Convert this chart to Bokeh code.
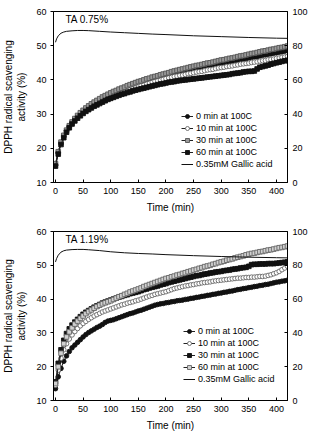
from bokeh.plotting import figure
from bokeh.layouts import column
from bokeh.models import (Range1d, LinearAxis, Legend, LegendItem, Label,
                          FixedTicker, ColumnDataSource)
from bokeh.embed import file_html
from bokeh.resources import INLINE

FONT = "Liberation Sans"

# Sampling times (min) for the DPPH kinetics
TIME = [0, 5, 10, 15, 20, 25, 30, 35, 40, 45,
        50, 55, 60, 65, 70, 75, 80, 85, 90, 95,
        100, 105, 110, 115, 120, 125, 130, 135, 140, 145,
        150, 155, 160, 165, 170, 175, 180, 185, 190, 195,
        200, 205, 210, 215, 220, 225, 230, 235, 240, 245,
        250, 255, 260, 265, 270, 275, 280, 285, 290, 295,
        300, 305, 310, 315, 320, 325, 330, 335, 340, 345,
        350, 355, 360, 365, 370, 375, 380, 385, 390, 395,
        400, 405, 410, 415, 420]

# TA 0.75 %
TOP_0 = [15.0, 18.7, 21.5, 23.5, 25.1, 26.4, 27.5, 28.5, 29.3, 30.1,
         30.8, 31.5, 32.1, 32.6, 33.1, 33.6, 34.1, 34.5, 34.9, 35.3,
         35.7, 36.1, 36.4, 36.7, 37.0, 37.3, 37.7, 38.0, 38.3, 38.5,
         38.8, 39.0, 39.3, 39.6, 39.8, 40.1, 40.3, 40.5, 40.7, 40.9,
         41.1, 41.3, 41.6, 41.8, 42.0, 42.2, 42.3, 42.5, 42.7, 42.9,
         43.1, 43.3, 43.4, 43.6, 43.8, 43.9, 44.0, 44.2, 44.4, 44.6,
         44.8, 44.9, 45.1, 45.3, 45.4, 45.5, 45.7, 45.9, 46.0, 46.2,
         46.4, 46.6, 46.7, 46.8, 47.0, 47.2, 47.3, 47.5, 47.6, 47.8,
         47.9, 48.1, 48.2, 48.4, 48.6]
TOP_10 = [15.3, 18.9, 21.7, 23.7, 25.2, 26.5, 27.5, 28.5, 29.3, 30.1,
          30.8, 31.4, 32.0, 32.5, 32.9, 33.3, 33.7, 34.2, 34.5, 34.9,
          35.2, 35.6, 35.8, 36.2, 36.4, 36.7, 37.0, 37.3, 37.6, 37.9,
          38.2, 38.4, 38.6, 38.9, 39.1, 39.4, 39.6, 39.8, 40.0, 40.2,
          40.4, 40.6, 40.8, 41.0, 41.1, 41.3, 41.4, 41.6, 41.8, 41.9,
          42.1, 42.3, 42.4, 42.5, 42.7, 42.9, 43.0, 43.1, 43.3, 43.5,
          43.6, 43.7, 43.9, 44.0, 44.1, 44.3, 44.4, 44.6, 44.7, 44.8,
          44.9, 45.1, 45.2, 45.3, 45.5, 45.6, 45.7, 45.9, 46.0, 46.1,
          46.3, 46.4, 46.6, 46.7, 46.9]
TOP_30 = [15.5, 19.0, 21.8, 23.8, 25.3, 26.6, 27.7, 28.7, 29.6, 30.4,
          31.1, 31.8, 32.4, 33.0, 33.5, 34.0, 34.5, 35.0, 35.4, 35.8,
          36.2, 36.6, 36.9, 37.3, 37.6, 37.9, 38.3, 38.6, 38.9, 39.2,
          39.5, 39.7, 40.0, 40.3, 40.5, 40.8, 41.0, 41.2, 41.5, 41.7,
          41.9, 42.1, 42.4, 42.6, 42.8, 43.0, 43.2, 43.4, 43.6, 43.8,
          44.0, 44.2, 44.3, 44.5, 44.7, 44.9, 45.0, 45.2, 45.4, 45.6,
          45.8, 45.9, 46.1, 46.3, 46.4, 46.6, 46.8, 47.0, 47.1, 47.3,
          47.5, 47.7, 47.8, 48.0, 48.2, 48.4, 48.5, 48.7, 48.9, 49.0,
          49.2, 49.4, 49.5, 49.7, 49.9]
TOP_60 = [14.8, 18.3, 21.1, 23.1, 24.7, 26.0, 27.1, 28.0, 28.8, 29.5,
          30.2, 30.8, 31.3, 31.8, 32.3, 32.7, 33.1, 33.5, 33.9, 34.3,
          34.6, 34.9, 35.2, 35.5, 35.8, 36.0, 36.3, 36.5, 36.8, 37.0,
          37.2, 37.4, 37.6, 37.8, 38.0, 38.2, 38.4, 38.6, 38.8, 38.9,
          39.1, 39.3, 39.4, 39.5, 39.7, 39.8, 39.9, 40.0, 40.1, 40.2,
          40.3, 40.4, 40.5, 40.6, 40.7, 40.8, 40.9, 41.0, 41.1, 41.2,
          41.3, 41.4, 41.5, 41.6, 41.8, 41.9, 42.0, 42.1, 42.3, 42.4,
          42.5, 42.5, 42.6, 43.2, 43.7, 43.9, 44.1, 44.3, 44.6, 44.8,
          45.0, 45.2, 45.4, 45.6, 45.7]

# TA 1.19 %
BOT_0 = [13.5, 17.0, 19.5, 21.6, 23.2, 24.5, 25.6, 26.4, 27.2, 28.0,
         28.8, 29.5, 30.1, 30.6, 31.1, 31.6, 32.0, 32.5, 33.1, 33.5,
         33.7, 33.9, 34.2, 34.5, 34.8, 35.1, 35.4, 35.7, 35.9, 36.2,
         36.5, 36.7, 37.0, 37.3, 37.6, 37.9, 38.2, 38.4, 38.6, 38.7,
         38.9, 39.0, 39.2, 39.3, 39.5, 39.6, 39.7, 39.9, 40.0, 40.2,
         40.3, 40.5, 40.6, 40.8, 40.9, 41.1, 41.2, 41.4, 41.5, 41.7,
         41.8, 42.0, 42.1, 42.3, 42.4, 42.6, 42.8, 42.9, 43.1, 43.2,
         43.4, 43.5, 43.7, 43.8, 44.0, 44.1, 44.3, 44.4, 44.6, 44.8,
         45.0, 45.1, 45.3, 45.4, 45.6]
BOT_10 = [14.5, 19.0, 22.5, 25.0, 26.8, 28.2, 29.4, 30.4, 31.3, 32.1,
          32.8, 33.4, 34.0, 34.5, 35.0, 35.4, 35.8, 36.2, 36.5, 36.8,
          37.1, 37.4, 37.7, 38.0, 38.3, 38.5, 38.8, 39.0, 39.2, 39.5,
          39.7, 40.0, 40.3, 40.6, 40.9, 41.1, 41.4, 41.6, 41.8, 42.0,
          42.2, 42.5, 42.8, 43.1, 43.3, 43.5, 43.7, 43.9, 44.0, 44.2,
          44.3, 44.5, 44.6, 44.8, 44.9, 45.0, 45.1, 45.3, 45.4, 45.5,
          45.6, 45.7, 45.8, 45.9, 46.0, 46.1, 46.2, 46.2, 46.3, 46.4,
          46.4, 46.5, 46.5, 46.6, 46.7, 46.7, 46.8, 47.0, 47.2, 47.5,
          47.8, 48.2, 48.7, 49.2, 49.7]
BOT_30 = [15.5, 21.0, 25.0, 27.8, 29.8, 31.2, 32.3, 33.2, 34.0, 34.8,
          35.5, 36.1, 36.6, 37.1, 37.6, 38.0, 38.4, 38.8, 39.1, 39.4,
          39.7, 40.0, 40.3, 40.6, 40.8, 41.1, 41.3, 41.6, 41.8, 42.0,
          42.2, 42.5, 42.8, 43.0, 43.3, 43.5, 43.7, 43.9, 44.2, 44.4,
          44.6, 44.9, 45.1, 45.3, 45.5, 45.7, 45.9, 46.1, 46.3, 46.5,
          46.7, 46.9, 47.0, 47.2, 47.4, 47.5, 47.7, 47.8, 48.0, 48.1,
          48.2, 48.4, 48.5, 48.6, 48.8, 48.9, 49.0, 49.2, 49.3, 49.4,
          49.7, 50.2, 50.3, 50.3, 50.4, 50.4, 50.4, 50.5, 50.5, 50.5,
          50.6, 50.7, 50.8, 50.9, 51.0]
BOT_60 = [15.0, 20.0, 24.0, 26.8, 28.8, 30.3, 31.5, 32.6, 33.5, 34.3,
          35.0, 35.7, 36.3, 36.8, 37.3, 37.8, 38.2, 38.6, 38.9, 39.2,
          39.5, 39.9, 40.3, 40.7, 41.0, 41.4, 41.7, 42.1, 42.4, 42.7,
          43.0, 43.3, 43.7, 44.0, 44.3, 44.6, 44.9, 45.2, 45.5, 45.8,
          46.1, 46.3, 46.6, 46.8, 47.1, 47.3, 47.6, 47.8, 48.1, 48.3,
          48.6, 48.8, 49.1, 49.3, 49.6, 49.8, 50.0, 50.3, 50.5, 50.8,
          51.0, 51.2, 51.5, 51.7, 51.9, 52.2, 52.4, 52.6, 52.8, 53.1,
          53.3, 53.5, 53.6, 53.8, 54.0, 54.1, 54.3, 54.5, 54.6, 54.8,
          55.0, 55.2, 55.3, 55.5, 55.7]

# Gallic acid reference (right axis)
GA_TIME = [0, 2, 5, 10, 15, 20, 30, 40, 50, 60, 80, 100, 125, 150, 175,
           200, 250, 300, 350, 400, 420]
GA_TOP = [82.0, 84.0, 85.8, 87.3, 88.0, 88.4, 88.7, 88.9, 88.9, 88.8, 88.4,
          88.0, 87.6, 87.2, 86.8, 86.5, 85.8, 85.3, 84.8, 84.4, 84.3]
GA_BOT = [82.0, 84.0, 86.0, 87.8, 88.6, 89.0, 89.3, 89.4, 89.4, 89.2, 88.7,
          88.0, 87.4, 87.0, 86.7, 86.3, 85.7, 85.2, 84.8, 84.5, 84.4]

LABELS = ["0 min at 100C", "10 min at 100C", "30 min at 100C", "60 min at 100C"]
GA_LABEL = "0.35mM Gallic acid"

X_TICKS = [0, 50, 100, 150, 200, 250, 300, 350, 400]
Y_TICKS = [10, 20, 30, 40, 50, 60]
Y2_TICKS = [0, 20, 40, 60, 80, 100]


def panel(tag, series, styles, ga, height, top, bottom, legend_xy):
    p = figure(width=310, height=height, output_backend="svg",
               toolbar_location=None,
               x_range=Range1d(-3.6, 420), y_range=Range1d(10, 60),
               min_border_left=52, min_border_right=23,
               min_border_top=top, min_border_bottom=bottom,
               background_fill_color="white", border_fill_color="white")
    p.outline_line_color = "black"
    p.outline_line_width = 1
    p.grid.visible = False
    p.extra_y_ranges = {"ga": Range1d(0, 100)}

    for ax in (p.xaxis[0], p.yaxis[0]):
        ax.axis_line_color = "black"
        ax.major_tick_line_color = "black"
        ax.minor_tick_line_color = None
        ax.major_label_text_font = FONT
        ax.major_label_text_font_size = "9px"
        ax.major_label_text_color = "black"
        ax.axis_label_text_font = FONT
        ax.axis_label_text_font_size = "10px"
        ax.axis_label_text_font_style = "normal"
        ax.axis_label_text_color = "black"

    p.xaxis.ticker = FixedTicker(ticks=X_TICKS)
    p.xaxis.major_tick_in = 3
    p.xaxis.major_tick_out = 0
    p.xaxis.major_label_standoff = 5
    p.xaxis.axis_label = "Time (min)"
    p.xaxis.axis_label_standoff = 5

    p.yaxis.ticker = FixedTicker(ticks=Y_TICKS)
    p.yaxis.major_tick_in = 0
    p.yaxis.major_tick_out = 3
    p.yaxis.major_label_standoff = 4
    p.yaxis.axis_label = "DPPH radical scavenging\nactivity (%)"
    p.yaxis.axis_label_standoff = 6

    right = LinearAxis(y_range_name="ga", ticker=FixedTicker(ticks=Y2_TICKS))
    right.major_tick_in = 3
    right.major_tick_out = 0
    right.minor_tick_line_color = None
    right.major_label_standoff = 5
    right.major_label_text_font = FONT
    right.major_label_text_font_size = "9px"
    right.major_label_text_color = "black"
    p.add_layout(right, "right")

    items = []
    for label, ys, (marker, fill, line) in zip(LABELS, series, styles):
        src = ColumnDataSource(dict(t=TIME, y=ys))
        lr = p.line("t", "y", source=src, line_color="#222222", line_width=1)
        sr = p.scatter("t", "y", source=src, marker=marker, size=4.6,
                       fill_color=fill, line_color=line, line_width=0.9)
        items.append(LegendItem(label=label, renderers=[lr, sr]))

    gsrc = ColumnDataSource(dict(t=GA_TIME, y=ga))
    gl = p.line("t", "y", source=gsrc, y_range_name="ga",
                line_color="#111111", line_width=1)
    items.append(LegendItem(label=GA_LABEL, renderers=[gl]))

    legend = Legend(items=items, location=legend_xy,
                    border_line_color=None, background_fill_alpha=0,
                    label_text_font=FONT, label_text_font_size="9px",
                    label_text_color="black", label_standoff=3,
                    glyph_width=12, glyph_height=10, label_height=10,
                    spacing=2, padding=0, margin=0)
    p.add_layout(legend)

    p.add_layout(Label(x=18, y=59.2, text=tag, text_font=FONT,
                       text_font_size="10px", text_color="black",
                       text_baseline="top"))
    return p


STYLE_TOP = [("circle", "#111111", "#111111"),
             ("circle", "white", "#666666"),
             ("square", "#9a9a9a", "#555555"),
             ("square", "#111111", "#111111")]
STYLE_BOT = [("circle", "#111111", "#111111"),
             ("circle", "white", "#666666"),
             ("square", "#111111", "#111111"),
             ("square", "#d0d0d0", "#666666")]

p1 = panel("TA 0.75%", [TOP_0, TOP_10, TOP_30, TOP_60], STYLE_TOP, GA_TOP,
           216, 11, 34, (128, 13))
p2 = panel("TA 1.19%", [BOT_0, BOT_10, BOT_30, BOT_60], STYLE_BOT, GA_BOT,
           217, 15, 31, (130, 16))

layout = column(p1, p2, spacing=0)
open("out.html", "w").write(file_html(layout, INLINE))
